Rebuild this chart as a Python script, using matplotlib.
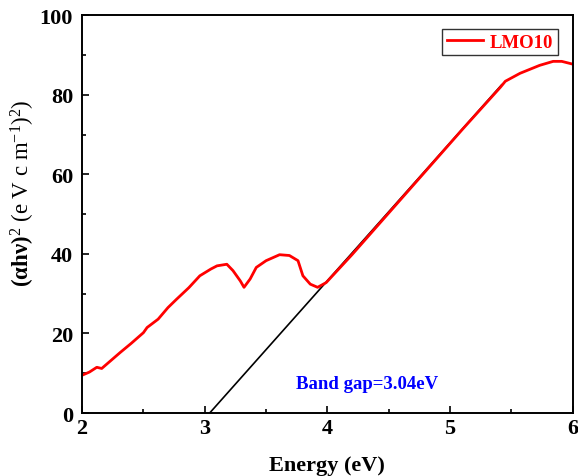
import matplotlib
matplotlib.use("Agg")
import matplotlib.pyplot as plt
import numpy as np
from matplotlib.ticker import MultipleLocator

# Données
energie = [2.00, 2.06, 2.12, 2.16, 2.22, 2.31, 2.40, 2.50, 2.53, 2.62, 2.70, 2.77, 2.87,
           2.96, 3.05, 3.10, 3.18, 3.23, 3.29, 3.32, 3.37, 3.42, 3.50, 3.61, 3.69, 3.76,
           3.80, 3.86, 3.92, 3.99, 4.20, 4.50, 4.80, 5.10, 5.41, 5.45, 5.57, 5.73, 5.84,
           5.91, 6.00]
absorption = [9.5, 10.3, 11.5, 11.2, 12.8, 15.2, 17.5, 20.2, 21.5, 23.6, 26.5, 28.6, 31.5,
              34.5, 36.2, 37.0, 37.4, 35.8, 33.2, 31.6, 33.7, 36.6, 38.3, 39.8, 39.6, 38.3,
              34.5, 32.4, 31.6, 32.8, 39.8, 50.3, 60.8, 71.3, 81.9, 83.4, 85.4, 87.4, 88.4,
              88.4, 87.7]

gap = 3.04
fit_x = [3.04, 5.42]
fit_y = [0.0, 82.5]

plt.rcParams['font.family'] = ['Liberation Serif', 'DejaVu Serif']
plt.rcParams['mathtext.fontset'] = 'custom'
plt.rcParams['mathtext.rm'] = 'Liberation Serif'
plt.rcParams['mathtext.it'] = 'Liberation Serif:italic'
plt.rcParams['mathtext.bf'] = 'Liberation Serif:bold'

fig = plt.figure(figsize=(5.78, 4.77), dpi=100)
ax = fig.add_axes([0.142, 0.132, 0.849, 0.834])

ax.plot(fit_x, fit_y, color='black', linewidth=1.2)
ax.plot(energie, absorption, color='red', linewidth=2.0, label='LMO10')

ax.set_xlim(2, 6)
ax.set_ylim(0, 100)
ax.xaxis.set_major_locator(MultipleLocator(1))
ax.xaxis.set_minor_locator(MultipleLocator(0.5))
ax.yaxis.set_major_locator(MultipleLocator(20))
ax.yaxis.set_minor_locator(MultipleLocator(10))
ax.tick_params(which='both', direction='in', top=False, right=False, width=1.2)
ax.tick_params(which='major', length=5, labelsize=16)
ax.tick_params(which='minor', length=3)
ax.tick_params(axis='y', which='major', pad=6.5)
for lab in ax.get_xticklabels() + ax.get_yticklabels():
    lab.set_fontweight('bold')
for sp in ax.spines.values():
    sp.set_linewidth(1.4)

ax.set_xlabel('Energy (eV)', fontsize=16, fontweight='bold', labelpad=12)
ax.set_ylabel(r'$\mathbf{(\alpha h\nu)}^{2}$ (e V c m$^{-1}$)$^{2}$)', fontsize=16.5)
ax.yaxis.set_label_coords(-0.092, 0.555)

ax.text(3.74, 7.3, 'Band gap=3.04eV', color='blue', fontsize=13.5, fontweight='bold',
        va='center', ha='left')

leg = ax.legend(loc='upper right', bbox_to_anchor=(0.978, 0.975),
                prop={'weight': 'bold', 'size': 13.5}, frameon=True, fancybox=False,
                handlelength=1.9, handletextpad=0.4, borderpad=0.25, borderaxespad=0.2)
leg.get_frame().set_edgecolor('black')
leg.get_frame().set_linewidth(1.0)
for t in leg.get_texts():
    t.set_color('red')

plt.savefig('out.png', dpi=100)
